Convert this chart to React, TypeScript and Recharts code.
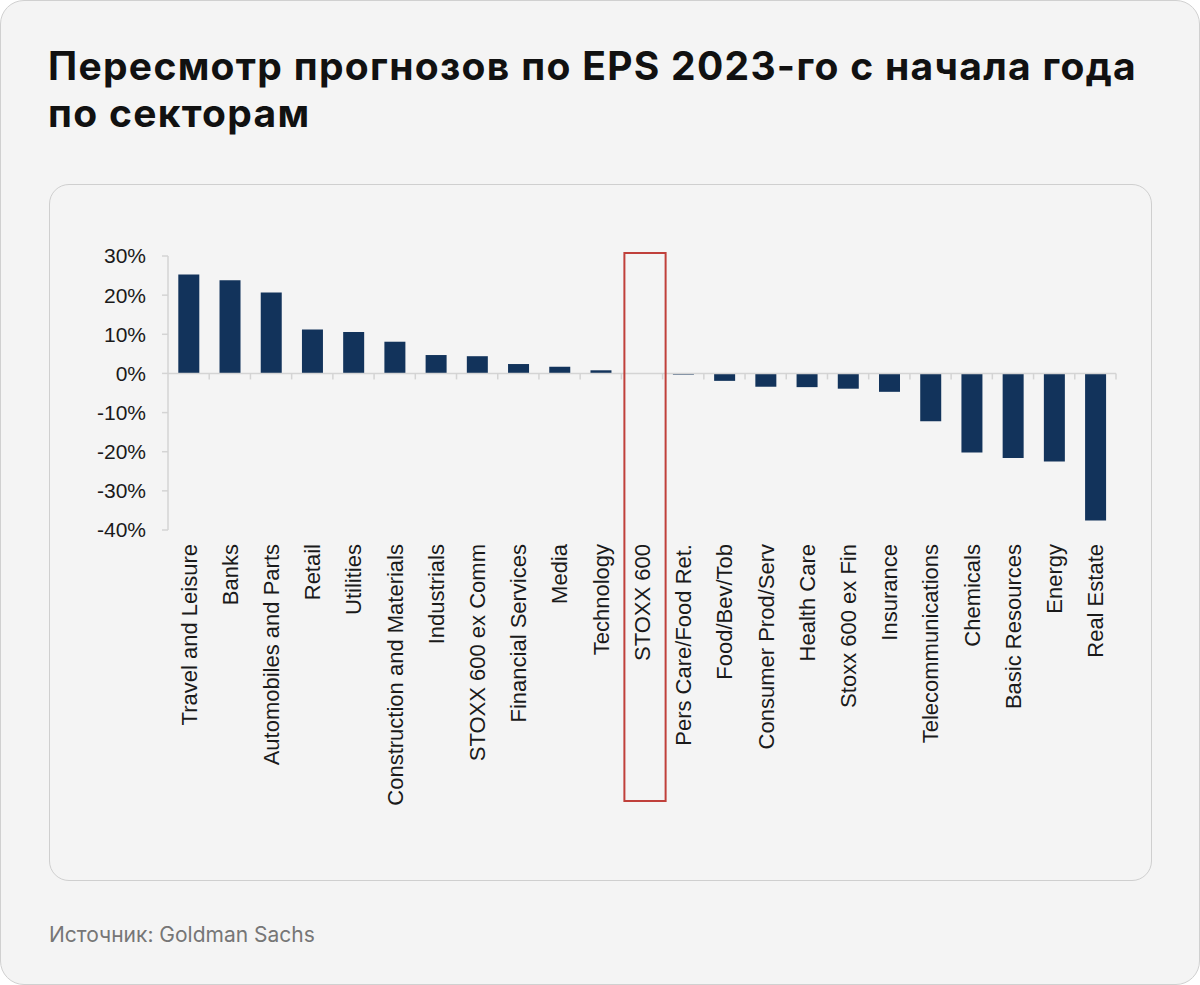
import * as React from 'react';
import { BarChart, Bar, XAxis, YAxis, ReferenceLine } from 'recharts';

// Sectors, in the order they appear on the axis
const SECTORS = [
  'Travel and Leisure',
  'Banks',
  'Automobiles and Parts',
  'Retail',
  'Utilities',
  'Construction and Materials',
  'Industrials',
  'STOXX 600 ex Comm',
  'Financial Services',
  'Media',
  'Technology',
  'STOXX 600',
  'Pers Care/Food Ret.',
  'Food/Bev/Tob',
  'Consumer Prod/Serv',
  'Health Care',
  'Stoxx 600 ex Fin',
  'Insurance',
  'Telecommunications',
  'Chemicals',
  'Basic Resources',
  'Energy',
  'Real Estate',
];

// YTD EPS 2023 revision, %
const REVISIONS = [
  25.3, 23.8, 20.7, 11.2, 10.6, 8.1, 4.7, 4.4, 2.4, 1.7, 0.8,
  -0.1, -0.3, -1.9, -3.4, -3.5, -3.9, -4.7, -12.2, -20.2, -21.6, -22.5, -37.6,
];

const Y_TICKS = [-40, -30, -20, -10, 0, 10, 20, 30];
const HIGHLIGHT = 'STOXX 600';

const data = SECTORS.map((name, i) => ({ name, value: REVISIONS[i] }));

const BAR_COLOR = '#12335b';
const AXIS_COLOR = '#d4d4d4';
const LABEL_FONT = '"Liberation Sans", Arial, sans-serif';
const PLOT_HEIGHT = 274;

const SectorTick = (props: any) => {
  const { x, y, payload } = props;
  const half = payload && payload.offset ? payload.offset : 20.6;
  // zero line sits 30/70 of the way down the plot
  const zeroY = y - (PLOT_HEIGHT * 40) / 70;
  const top = y - PLOT_HEIGHT;
  return (
    <g>
      <line x1={x + half} x2={x + half} y1={zeroY} y2={zeroY + 6} stroke={AXIS_COLOR} strokeWidth={1.5} />
      {payload.value === HIGHLIGHT && (
        <rect
          x={x - half + 3}
          y={top - 3}
          width={half * 2}
          height={PLOT_HEIGHT + 274}
          fill="none"
          stroke="#c0403b"
          strokeWidth={2}
        />
      )}
      <text
        x={x}
        y={y + 14}
        dy="0.36em"
        textAnchor="end"
        transform={`rotate(-90, ${x}, ${y + 14})`}
        fill="#1a1a1a"
        fontSize={22}
        fontFamily={LABEL_FONT}
      >
        {payload.value}
      </text>
    </g>
  );
};

export default function App() {
  return (
    <div
      style={{
        position: 'relative',
        width: 1200,
        height: 985,
        boxSizing: 'border-box',
        background: '#f4f4f4',
        border: '1px solid #d0d0d0',
        borderRadius: 24,
        fontFamily: 'Inter, "Noto Sans", sans-serif',
      }}
    >
      <style>{'body{margin:0}'}</style>
      <div
        style={{
          position: 'absolute',
          left: 47,
          top: 41,
          fontSize: 39,
          fontWeight: 700,
          lineHeight: '47px',
          color: '#111',
          letterSpacing: 1.3,
          whiteSpace: 'nowrap',
        }}
      >
        Пересмотр прогнозов по EPS 2023-го с начала года
        <br />
        по секторам
      </div>

      <div
        style={{
          position: 'absolute',
          left: 48,
          top: 183,
          width: 1103,
          height: 697,
          boxSizing: 'border-box',
          border: '1px solid #cfcfcf',
          borderRadius: 20,
          background: '#f4f4f4',
        }}
      >
        <BarChart
          width={1101}
          height={695}
          data={data}
          margin={{ top: 71, right: 35, bottom: 50, left: 0 }}
          barCategoryGap="25%"
        >
          <XAxis
            dataKey="name"
            interval={0}
            height={300}
            axisLine={false}
            tickLine={false}
            tickSize={0}
            tickMargin={0}
            tick={<SectorTick />}
          />
          <YAxis
            width={118}
            domain={[-40, 30]}
            ticks={Y_TICKS}
            tickFormatter={(v) => `${v}%`}
            axisLine={{ stroke: AXIS_COLOR, strokeWidth: 1.5 }}
            tickLine={{ stroke: AXIS_COLOR, strokeWidth: 1.5 }}
            tickSize={6}
            tickMargin={16}
            tick={{ fill: '#1a1a1a', fontSize: 21, fontFamily: LABEL_FONT }}
          />
          <ReferenceLine y={0} stroke={AXIS_COLOR} strokeWidth={1.5} />
          <Bar dataKey="value" fill={BAR_COLOR} isAnimationActive={false} />
        </BarChart>
      </div>

      <div
        style={{
          position: 'absolute',
          left: 48,
          top: 921,
          fontSize: 21,
          color: '#767676',
        }}
      >
        Источник: Goldman Sachs
      </div>
    </div>
  );
}
